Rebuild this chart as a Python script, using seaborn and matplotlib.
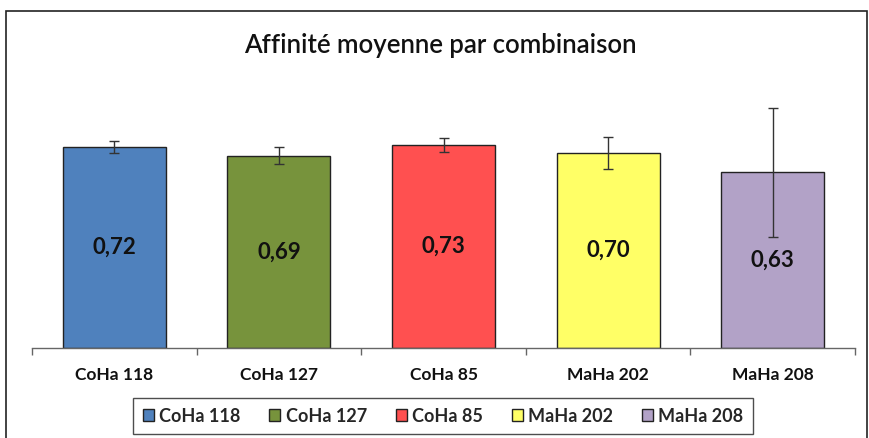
import matplotlib
matplotlib.use('Agg')
import matplotlib.pyplot as plt
import matplotlib.patches as mpatches
import numpy as np
import pandas as pd
import seaborn as sns

# chart values
combos = ['CoHa 118', 'CoHa 127', 'CoHa 85', 'MaHa 202', 'MaHa 208']
affinity = [0.72, 0.69, 0.73, 0.70, 0.63]
errors = [0.022, 0.031, 0.025, 0.056, 0.23]
colors = ['#4F81BD', '#77933C', '#FF5050', '#FFFF66', '#B2A2C7']

df = pd.DataFrame({'combo': combos, 'affinity': affinity})

sns.set_style('white')
plt.rcParams['font.family'] = ['Lato', 'DejaVu Sans']

fig = plt.figure(figsize=(8.7, 4.38), dpi=100)
ax = fig.add_axes([32 / 870, 90 / 438, 823 / 870, 278.7 / 438])

sns.barplot(data=df, x='combo', y='affinity', hue='combo', palette=colors,
            order=combos, hue_order=combos, errorbar=None, width=0.626,
            saturation=1, edgecolor='#222222', linewidth=1.0, legend=True, ax=ax)

ax.errorbar(np.arange(len(combos)), affinity, yerr=errors, fmt='none',
            ecolor='#333333', elinewidth=1.0, capsize=3.6, capthick=1.0)

for cont in ax.containers:
    if isinstance(cont, matplotlib.container.BarContainer):
        ax.bar_label(cont, fmt=lambda v: f'{v:.2f}'.replace('.', ','),
                     label_type='center', fontsize=16, fontweight='bold',
                     color='#111111')

ax.set_ylim(0, 1)
ax.set_xlim(-0.5, len(combos) - 0.5)
ax.set_xlabel('')
ax.set_ylabel('')
ax.set_yticks([])
for s in ['left', 'right', 'top']:
    ax.spines[s].set_visible(False)
ax.spines['bottom'].set_color('#666666')
ax.spines['bottom'].set_linewidth(1.0)

ax.set_xticks(np.arange(len(combos)))
ax.set_xticklabels(combos, fontsize=12.5, fontweight='bold', color='#111111')
ax.set_xticks(np.arange(len(combos) + 1) - 0.5, minor=True)
ax.tick_params(axis='x', which='major', length=0, pad=14)
ax.tick_params(axis='x', which='minor', length=5, width=1.0,
               color='#666666', direction='out', bottom=True)

handles, labels = ax.get_legend_handles_labels()
if ax.get_legend() is not None:
    ax.get_legend().remove()
leg = fig.legend(handles, labels, loc='center', bbox_to_anchor=(443 / 870, 1 - 416 / 438),
                 ncol=5, frameon=True, fancybox=False, edgecolor='#222222',
                 prop={'size': 13, 'weight': 'bold'},
                 handlelength=0.6, handleheight=0.6, handletextpad=0.3,
                 columnspacing=1.6, borderpad=0.55, borderaxespad=0)
leg.get_frame().set_linewidth(1.0)

fig.text(440 / 870, 1 - 45 / 438, 'Affinité moyenne par combinaison',
         ha='center', va='center', fontsize=18.5, fontweight='semibold', color='#111111')

fig.patches.append(mpatches.Rectangle((6 / 870, -0.05), 861 / 870, 1.05 - 11 / 438,
                                      transform=fig.transFigure, fill=False,
                                      edgecolor='#222222', linewidth=1.2))

fig.savefig('out.png', dpi=100)
